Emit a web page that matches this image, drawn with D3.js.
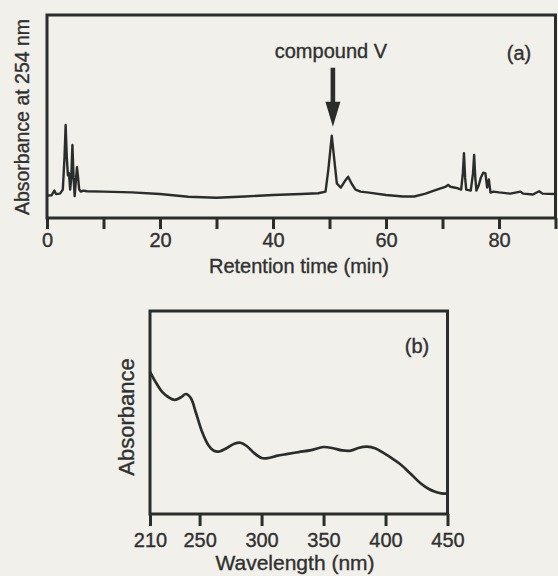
<!DOCTYPE html>
<html>
<head>
<meta charset="utf-8">
<script src="https://cdn.jsdelivr.net/npm/d3@7"></script>
<style>
  html, body { margin: 0; padding: 0; background: #f1f0ea; }
  svg { display: block; }
  text { font-family: "Liberation Sans", Arial, sans-serif; fill: #303030; stroke: #303030; stroke-width: 0.35px; }
</style>
</head>
<body>
<svg id="chart" width="558" height="576"></svg>
<script>
// ---- Panel (a): HPLC chromatogram ----
const chromTime = [0, 0.8, 1.3, 1.6, 2.3, 2.8, 3.1, 3.3, 3.5, 3.7, 3.9, 4.1, 4.3, 4.5, 4.7, 4.9, 5.1, 5.3, 5.5, 5.7, 6.0, 6.5, 7, 10, 15, 20, 25, 30, 35, 40, 45, 48, 49.3, 49.8, 50.4, 50.8, 51.3, 52, 52.8, 53.3, 53.9, 54.6, 55.5, 57, 60, 63, 65, 67, 69, 70.6, 71, 71.4, 72.5, 73.3, 73.6, 73.8, 74.0, 74.2, 75.0, 75.4, 75.6, 75.8, 76.0, 76.4, 76.8, 77.2, 77.6, 77.9, 78.2, 78.5, 79, 80, 82, 83.8, 84.3, 86, 87.1, 87.7, 90];
const chromAbs  = [11.0, 11.2, 13.5, 11.8, 12.0, 14, 30, 45.8, 30, 21, 22, 14, 20, 36, 20, 10.8, 18, 25, 20, 14, 13, 13.5, 13.2, 13.0, 12.6, 11.8, 10.5, 10.0, 10.6, 11.3, 11.8, 12.2, 13, 24, 40.5, 30, 17, 15, 18.5, 20.3, 17, 14, 13, 12.5, 11.3, 10.6, 10.6, 12, 14, 15.5, 16.3, 15.4, 14.8, 14, 22, 31.9, 20, 14, 13.5, 22, 31, 20, 13.5, 16, 20, 22.3, 22, 15, 19, 12.5, 13, 12.6, 12, 13, 12, 11.6, 13.2, 12, 11.8];
const chromTicks = [0, 10, 20, 30, 40, 50, 60, 70, 80, 90];
const chromTickLabels = ["0", "", "20", "", "40", "", "60", "", "80", ""];
const chromDomainX = [0, 90];
const chromDomainY = [0, 100];
const annotationLabel = "compound V";
const annotationTime = 50.6;
const arrowFrom = 74;   // absorbance units (arrow tail)
const arrowTo = 45;     // absorbance units (arrow tip)

// ---- Panel (b): UV spectrum ----
const specWavelength = [210, 215, 220, 225, 230, 235, 239, 243, 247, 252, 257, 262, 266, 272, 278, 283, 288, 294, 300, 305, 312, 320, 330, 340, 350, 357, 365, 372, 378, 385, 392, 398, 405, 412, 420, 428, 435, 440, 445, 450];
const specAbs        = [70, 64.5, 60, 57.5, 56.2, 57.5, 59.1, 57, 50, 40.5, 34, 31, 30.8, 32.5, 34.6, 35.1, 33.5, 30, 27.6, 27.5, 28.6, 29.5, 30.5, 31.5, 33, 32.5, 31.3, 31.2, 32.5, 33.2, 32.3, 30.2, 27.5, 24.5, 20, 15.3, 12.3, 11, 10.2, 10];
const specTicks = [210, 250, 300, 350, 400, 450];
const specDomainX = [210, 450];
const specDomainY = [0, 100];

const svg = d3.select("#chart");
const ink = "#2a2d2a";

// ===== Panel (a) =====
const a = { left: 47, right: 555.5, top: 15, bottom: 218 };
const xA = d3.scaleLinear().domain(chromDomainX).range([a.left, a.right]);
const yA = d3.scaleLinear().domain(chromDomainY).range([a.bottom, a.top]);

const gA = svg.append("g");
gA.append("rect")
  .attr("x", a.left).attr("y", a.top)
  .attr("width", a.right - a.left).attr("height", a.bottom - a.top)
  .attr("fill", "none").attr("stroke", ink).attr("stroke-width", 3);

const axA = d3.axisBottom(xA).tickValues(chromTicks)
  .tickFormat((d, i) => chromTickLabels[i]).tickSize(11).tickPadding(4);
const gAxA = gA.append("g").attr("transform", `translate(0,${a.bottom})`).call(axA);
gAxA.select(".domain").remove();
gAxA.selectAll(".tick line").attr("stroke", ink).attr("stroke-width", 3);
gAxA.selectAll(".tick text").attr("fill", "#303030").style("font-size", "20px")
  .style("font-family", "Liberation Sans, Arial, sans-serif");

gA.append("path")
  .datum(chromTime.map((t, i) => [t, chromAbs[i]]))
  .attr("fill", "none").attr("stroke", ink).attr("stroke-width", 2.4)
  .attr("stroke-linejoin", "round")
  .attr("d", d3.line().x(d => xA(d[0])).y(d => yA(d[1])));

// arrow
const ax = xA(annotationTime), ay0 = yA(arrowFrom), ay1 = yA(arrowTo);
const headLen = 25, headW = 7.5, shaftW = 2.3;
gA.append("path")
  .attr("d", `M${ax - shaftW},${ay0} L${ax + shaftW},${ay0} L${ax + shaftW},${ay1 - headLen} L${ax + headW},${ay1 - headLen} L${ax},${ay1} L${ax - headW},${ay1 - headLen} L${ax - shaftW},${ay1 - headLen} Z`)
  .attr("fill", ink);

gA.append("text").attr("x", ax - 2).attr("y", 53).attr("text-anchor", "middle")
  .attr("dominant-baseline", "middle").style("font-size", "20px").text(annotationLabel);
gA.append("text").attr("x", 519).attr("y", 55).attr("text-anchor", "middle")
  .attr("dominant-baseline", "middle").style("font-size", "20px").text("(a)");
gA.append("text").attr("x", 299).attr("y", 268).attr("text-anchor", "middle")
  .attr("dominant-baseline", "middle").style("font-size", "20px").text("Retention time (min)");
gA.append("text").attr("transform", "translate(24,117) rotate(-90)").attr("text-anchor", "middle")
  .attr("dominant-baseline", "middle").style("font-size", "19.5px").text("Absorbance at 254 nm");

// ===== Panel (b) =====
const b = { left: 150, right: 447.5, top: 311, bottom: 514 };
const xB = d3.scaleLinear().domain(specDomainX).range([b.left, b.right]);
const yB = d3.scaleLinear().domain(specDomainY).range([b.bottom, b.top]);

const gB = svg.append("g");
gB.append("rect")
  .attr("x", b.left).attr("y", b.top)
  .attr("width", b.right - b.left).attr("height", b.bottom - b.top)
  .attr("fill", "none").attr("stroke", ink).attr("stroke-width", 3);

const axB = d3.axisBottom(xB).tickValues(specTicks).tickFormat(d3.format("d"))
  .tickSize(12).tickPadding(7);
const gAxB = gB.append("g").attr("transform", `translate(0,${b.bottom})`).call(axB);
gAxB.select(".domain").remove();
gAxB.selectAll(".tick line").attr("stroke", ink).attr("stroke-width", 3);
gAxB.selectAll(".tick text").attr("fill", "#303030").style("font-size", "20px")
  .style("font-family", "Liberation Sans, Arial, sans-serif");

gB.append("path")
  .datum(specWavelength.map((w, i) => [w, specAbs[i]]))
  .attr("fill", "none").attr("stroke", ink).attr("stroke-width", 2.7)
  .attr("d", d3.line().curve(d3.curveCatmullRom).x(d => xB(d[0])).y(d => yB(d[1])));

gB.append("text").attr("x", 417).attr("y", 348).attr("text-anchor", "middle")
  .attr("dominant-baseline", "middle").style("font-size", "20px").text("(b)");
gB.append("text").attr("x", 295).attr("y", 564).attr("text-anchor", "middle")
  .attr("dominant-baseline", "middle").style("font-size", "21px").text("Wavelength (nm)");
gB.append("text").attr("transform", "translate(128,417) rotate(-90)").attr("text-anchor", "middle")
  .attr("dominant-baseline", "middle").style("font-size", "22px").text("Absorbance");
</script>
</body>
</html>
